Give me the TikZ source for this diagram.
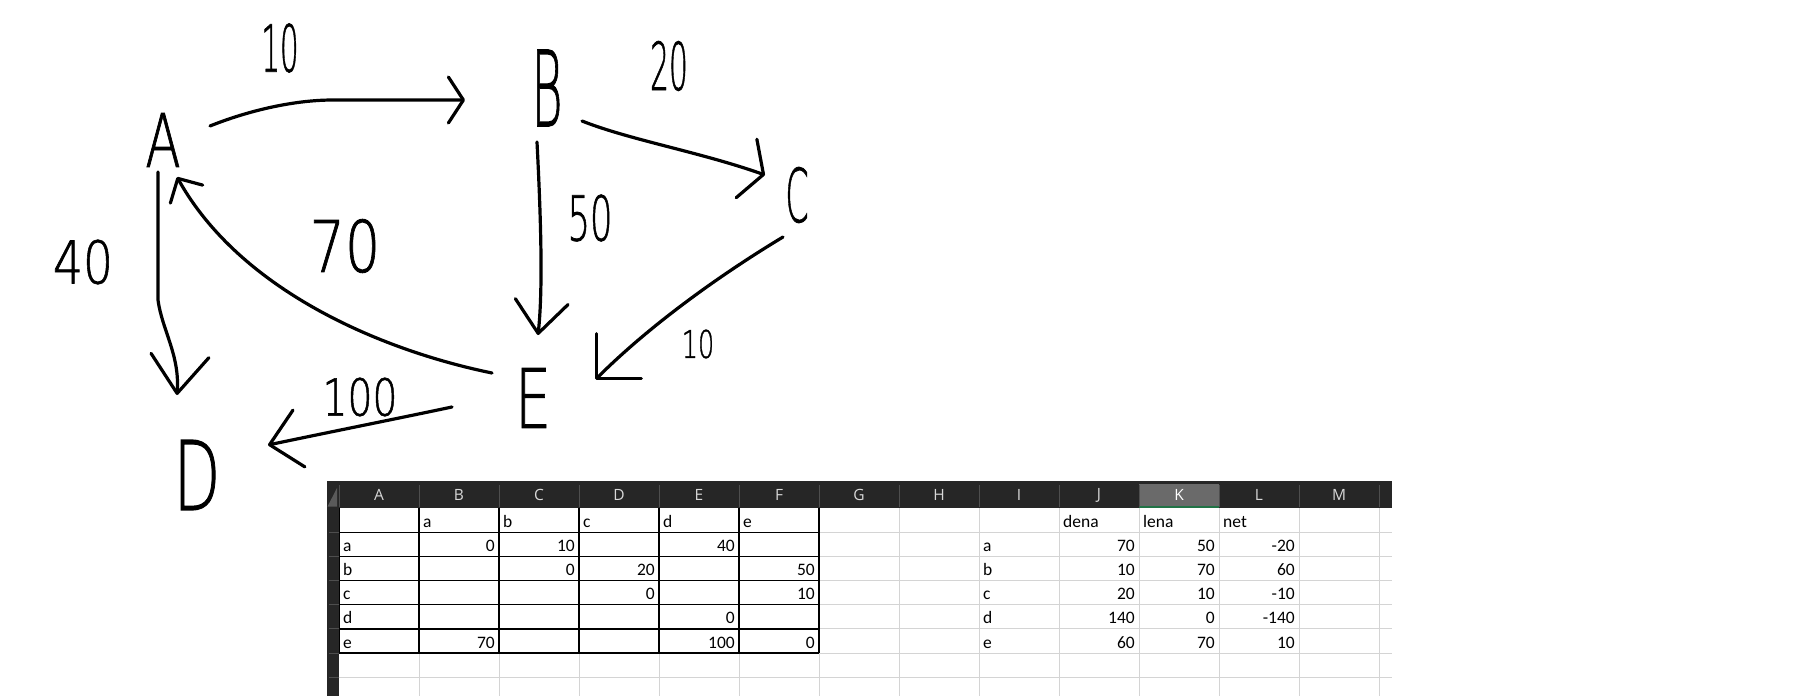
\documentclass[tikz,border=0pt]{standalone}
\usepackage{fontspec}
\setmainfont{Carlito}
\IfFontExistsTF{DejaVu Sans ExtraLight}{\newfontfamily\handfont[FakeBold=1.2]{DejaVu Sans ExtraLight}}{\newfontfamily\handfont{DejaVu Sans}}
\newfontfamily\hdrfont{Open Sans}
\usetikzlibrary{arrows.meta,calc}
\definecolor{xlhead}{HTML}{262626}
\definecolor{xlsel}{HTML}{6A6A6A}
\definecolor{xlgreen}{HTML}{217346}
\definecolor{xlgrid}{HTML}{D4D4D4}
\definecolor{xlsep}{HTML}{4E4E4E}
\definecolor{xlhtext}{HTML}{D8D8D8}
\definecolor{xltri}{HTML}{5A5A5A}
\begin{document}
\begin{tikzpicture}[x=1pt,y=-1pt,
  pen/.style={line width=3.2pt,line cap=round,line join=round,black},
  hw/.style={inner sep=0pt,font={\handfont\fontsize{#1}{#1}\selectfont}},
  barb/.style n args={2}{-{Straight Barb[round,length=#1pt,width=#2pt]}},
  cellL/.style={anchor=base west,inner sep=0pt,font={\fontsize{17.5}{19}\selectfont}},
  cellR/.style={anchor=base east,inner sep=0pt,font={\fontsize{17.5}{19}\selectfont}},
  colhdr/.style={inner sep=0pt,text=xlhtext,font={\hdrfont\fontsize{15.5}{17}\selectfont}},
  gridln/.style={xlgrid,line width=1pt},
  bordln/.style={black,line width=1.3pt}
]
\useasboundingbox (0,0) rectangle (1801,696);
\fill[white] (0,0) rectangle (1801,696);

% ---------- hand-drawn graph ----------
\node[hw=74] (A) at (163,140) {\scalebox{0.7}[1]{A}};
\node[hw=105] (B) at (547,88) {\scalebox{0.45}[1]{B}};
\node[hw=74] (C) at (797,195) {\scalebox{0.45}[1]{C}};
\node[hw=96] (D) at (197,475) {\scalebox{0.63}[1]{D}};
\node[hw=82] (E) at (533,398) {\scalebox{0.7}[1]{E}};

\node[hw=65] (lab) at (280,48) {\scalebox{0.45}[1]{10}};
\node[hw=66] (lbc) at (669,66) {\scalebox{0.45}[1]{20}};
\node[hw=59] (lad) at (83,262) {\scalebox{0.8}[1]{40}};
\node[hw=71] (lea) at (345,246) {\scalebox{0.78}[1]{70}};
\node[hw=62] (lbe) at (590,218) {\scalebox{0.57}[1]{50}};
\node[hw=51] (led) at (360,397) {\scalebox{0.77}[1]{100}};
\node[hw=38] (lce) at (698,344) {\scalebox{0.67}[1]{10}};

% A -> B
\draw[pen,barb={15}{46}] ($(A.center)+(47,-14)$) .. controls ($(A.center)+(87,-30)$) and ($(A.center)+(132,-40)$) .. ($(A.center)+(170,-40)$) -- ($(B.center)+(-82,12)$);
% A -> D
\draw[pen,barb={38}{58}] ($(A.center)+(-5,32)$) -- ($(A.center)+(-5,160)$) .. controls ($(A.center)+(-1,190)$) and ($(D.center)+(-17,-120)$) .. ($(D.center)+(-20,-80)$);
% E -> A
\draw[pen,barb={18}{37}] ($(E.center)+(-41,-25)$) .. controls ($(E.center)+(-153,-48)$) and ($(A.center)+(77,150)$) .. ($(A.center)+(14,37)$);
% E -> D
\draw[pen,barb={30}{58}] ($(E.center)+(-81,9)$) .. controls ($(E.center)+(-133,20)$) and ($(D.center)+(133,-43)$) .. ($(D.center)+(71,-30)$);
% B -> E
\draw[pen,barb={32}{53}] ($(B.center)+(-10,54)$) .. controls ($(B.center)+(-6,132)$) and ($(E.center)+(10,-108)$) .. ($(E.center)+(5,-63)$);
% B -> C
\draw[pen,barb={18}{62}] ($(B.center)+(35,33)$) .. controls ($(B.center)+(83,52)$) and ($(C.center)+(-97,-43)$) .. ($(C.center)+(-32,-20)$);
% C -> E
\draw[pen,barb={32}{64}] ($(C.center)+(-14,42)$) .. controls ($(C.center)+(-77,80)$) and ($(E.center)+(117,-73)$) .. ($(E.center)+(62,-18)$);

% ---------- spreadsheet ----------
% gray gridlines
\foreach \k in {1,...,13} \draw[gridln] ({339+80*\k},508) -- ({339+80*\k},696);
\foreach \r in {1,...,7} \draw[gridln] (339,{508+24.17*\r}) -- (1392,{508+24.17*\r});
% black borders of A1:F6
\foreach \k in {0,...,6} \draw[bordln] ({339+80*\k},508) -- ({339+80*\k},653);
\foreach \r in {1,...,6} \draw[bordln] (339,{508+24.17*\r}) -- (819,{508+24.17*\r});
% header band
\fill[xlhead] (327,481) rectangle (1392,508);
\fill[xlsel] (1139,484) rectangle (1219,507);
\draw[xlgreen,line width=2pt] (1139,507) -- (1219,507);
\foreach \k in {0,...,13} \draw[xlsep,line width=1pt] ({339+80*\k},485) -- ({339+80*\k},507);
% row header strip
\fill[xlhead] (327,508) rectangle (339,696);
\foreach \r in {1,...,7} \draw[xlsep,line width=1pt] (329,{508+24.17*\r}) -- (339,{508+24.17*\r});
\fill[xltri] (327.5,506.5) -- (337,506.5) -- (337,488) -- cycle;
% column letters
\foreach \L [count=\i from 0] in {A,B,C,D,E,F,G,H,I,J,K,L,M}
  \node[colhdr] (h\L) at ({379+80*\i},495) {\ifnum\i=10 \color{white}\fi\L};
% text cells (column index, row, text)
\foreach \c/\r/\t in {1/1/a,2/1/b,3/1/c,4/1/d,5/1/e,0/2/a,0/3/b,0/4/c,0/5/d,0/6/e,
  9/1/dena,10/1/lena,11/1/net,8/2/a,8/3/b,8/4/c,8/5/d,8/6/e}
  \node[cellL] (t\c-\r) at ({339+80*\c+4},{508+24.17*\r-5}) {\t};
% number cells
\foreach \c/\r/\t in {1/2/0,2/2/10,4/2/40,2/3/0,3/3/20,5/3/50,3/4/0,5/4/10,4/5/0,
  1/6/70,4/6/100,5/6/0,
  9/2/70,10/2/50,11/2/-20,9/3/10,10/3/70,11/3/60,9/4/20,10/4/10,11/4/-10,
  9/5/140,10/5/0,11/5/-140,9/6/60,10/6/70,11/6/10}
  \node[cellR] (n\c-\r) at ({339+80*\c+76},{508+24.17*\r-5}) {\t};
\end{tikzpicture}
\end{document}
